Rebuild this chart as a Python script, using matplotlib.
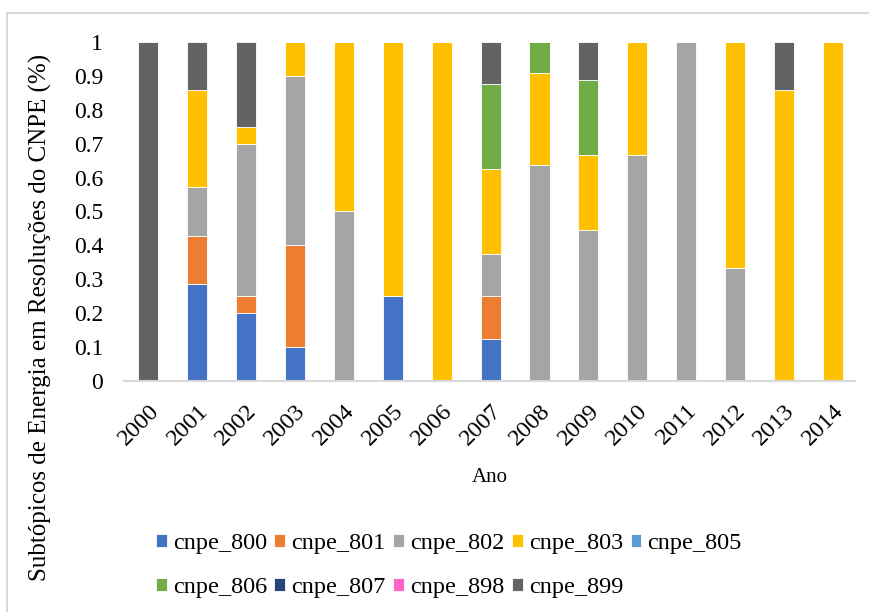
import numpy as np
import matplotlib.pyplot as plt
from matplotlib.lines import Line2D

plt.rcParams['font.family'] = ['Liberation Serif', 'DejaVu Serif']

anos = ['2000', '2001', '2002', '2003', '2004', '2005', '2006', '2007',
        '2008', '2009', '2010', '2011', '2012', '2013', '2014']

# participacao de cada subtopico por ano
cnpe_800 = [0, 2/7, 0.20, 0.10, 0, 0.25, 0, 1/8, 0, 0, 0, 0, 0, 0, 0]
cnpe_801 = [0, 1/7, 0.05, 0.30, 0, 0, 0, 1/8, 0, 0, 0, 0, 0, 0, 0]
cnpe_802 = [0, 1/7, 0.45, 0.50, 0.5, 0, 0, 1/8, 7/11, 4/9, 2/3, 1, 1/3, 0, 0]
cnpe_803 = [0, 2/7, 0.05, 0.10, 0.5, 0.75, 1, 2/8, 3/11, 2/9, 1/3, 0, 2/3, 6/7, 1]
cnpe_805 = [0] * 15
cnpe_806 = [0, 0, 0, 0, 0, 0, 0, 2/8, 1/11, 2/9, 0, 0, 0, 0, 0]
cnpe_807 = [0] * 15
cnpe_898 = [0] * 15
cnpe_899 = [1, 1/7, 0.25, 0, 0, 0, 0, 1/8, 0, 1/9, 0, 0, 0, 1/7, 0]

series = [('cnpe_800', cnpe_800, '#4472C4'),
          ('cnpe_801', cnpe_801, '#ED7D31'),
          ('cnpe_802', cnpe_802, '#A5A5A5'),
          ('cnpe_803', cnpe_803, '#FFC000'),
          ('cnpe_805', cnpe_805, '#5B9BD5'),
          ('cnpe_806', cnpe_806, '#70AD47'),
          ('cnpe_807', cnpe_807, '#264478'),
          ('cnpe_898', cnpe_898, '#FF66CC'),
          ('cnpe_899', cnpe_899, '#636363')]

fig = plt.figure(figsize=(8.7, 6.12), dpi=100)
ax = fig.add_axes([0.1425, 0.3775, 0.84, 0.554])

x = np.arange(len(anos))
base = np.zeros(len(anos))
handles = []
for nome, vals, cor in series:
    vals = np.array(vals)
    b = ax.bar(x, vals, 0.41, bottom=base, color=cor, edgecolor='white',
               linewidth=0.6, label=nome)
    handles.append(b)
    base += vals

ax.set_ylim(0, 1)
ax.set_xlim(-0.5, len(anos) - 0.55)
ax.set_yticks(np.arange(0, 1.01, 0.1))
ax.set_yticklabels(['0', '0.1', '0.2', '0.3', '0.4', '0.5', '0.6', '0.7',
                    '0.8', '0.9', '1'])
ax.set_xticks(x)
ax.set_xticklabels(anos, rotation=45, ha='right', rotation_mode='anchor')
ax.tick_params(axis='x', length=0, labelsize=17.5, pad=14)
ax.tick_params(axis='y', length=0, labelsize=17, pad=15)
for s in ['top', 'right', 'left']:
    ax.spines[s].set_visible(False)
ax.spines['bottom'].set_color('#D9D9D9')
ax.spines['bottom'].set_linewidth(1.5)

fig.text(490 / 870, 1 - 478 / 612, 'Ano', fontsize=15, ha='center',
         va='center')
fig.text(40 / 870, 1 - 317 / 612,
         'Subtópicos de Energia em Resoluções do CNPE (%)', fontsize=18,
         rotation=90, ha='center', va='center')

# legenda em duas linhas, preenchida por linha
ordem = [0, 5, 1, 6, 2, 7, 3, 8, 4]
fig.legend([handles[i] for i in ordem], [series[i][0] for i in ordem],
           ncol=5, loc='center', bbox_to_anchor=(0.516, 0.076),
           frameon=False, fontsize=17.5, handlelength=0.45, handleheight=0.45,
           handletextpad=0.25, columnspacing=0.3, labelspacing=0.95,
           borderpad=0)

# moldura do grafico (linhas superior e esquerda)
fig.add_artist(Line2D([7 / 870, 1], [1 - 13 / 612] * 2,
                      transform=fig.transFigure, color='#D9D9D9', lw=1.5))
fig.add_artist(Line2D([7 / 870] * 2, [0, 1 - 13 / 612],
                      transform=fig.transFigure, color='#D9D9D9', lw=1.5))

fig.savefig('out.png', dpi=100)
